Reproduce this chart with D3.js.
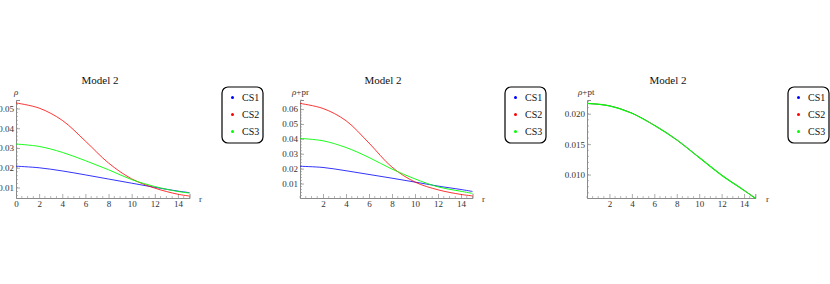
<!DOCTYPE html>
<html>
<head>
<meta charset="utf-8">
<script src="https://cdn.jsdelivr.net/npm/d3@7"></script>
<style>
  body { margin: 0; background: #fff; }
  svg text { font-family: "Liberation Serif", "Times New Roman", Times, serif !important; }
</style>
</head>
<body>
<svg id="chart" width="830" height="284"></svg>
<script>
// radial coordinate samples
const rValues = [0, 2, 4, 6, 8, 10, 12, 14, 15];

const seriesNames = ['CS1', 'CS2', 'CS3'];
const seriesColors = ['#0000ff', '#ff0000', '#00ff00'];

// rho
const rhoCS1 = [0.0208, 0.0200, 0.0184, 0.0164, 0.0143, 0.0122, 0.0101, 0.0082, 0.0074];
const rhoCS2 = [0.0528, 0.0502, 0.0440, 0.0335, 0.0224, 0.0144, 0.0097, 0.0066, 0.0057];
const rhoCS3 = [0.0320, 0.0308, 0.0278, 0.0236, 0.0190, 0.0140, 0.0105, 0.0080, 0.0072];

// rho + pr
const rhoPrCS1 = [0.0216, 0.0208, 0.0186, 0.0161, 0.0136, 0.0110, 0.0083, 0.0060, 0.0047];
const rhoPrCS2 = [0.0638, 0.0604, 0.0522, 0.0372, 0.0210, 0.0110, 0.0058, 0.0027, 0.0017];
const rhoPrCS3 = [0.0403, 0.0387, 0.0342, 0.0275, 0.0197, 0.0131, 0.0078, 0.0048, 0.0034];

// rho + pt (the three cases coincide)
const rhoPtCS1 = [0.0217, 0.0213, 0.0201, 0.0181, 0.0157, 0.0128, 0.0099, 0.0074, 0.0061];
const rhoPtCS2 = [0.0217, 0.0213, 0.0201, 0.0181, 0.0157, 0.0128, 0.0099, 0.0074, 0.0061];
const rhoPtCS3 = [0.0217, 0.0213, 0.0201, 0.0181, 0.0157, 0.0128, 0.0099, 0.0074, 0.0061];

// tick labels
const rhoYTicks = [0.01, 0.02, 0.03, 0.04, 0.05];
const rhoPrYTicks = [0.01, 0.02, 0.03, 0.04, 0.05, 0.06];
const rhoPtYTicks = [0.010, 0.015, 0.020];
const xTicksWithZero = [0, 2, 4, 6, 8, 10, 12, 14];
const xTicksNoZero = [2, 4, 6, 8, 10, 12, 14];

const panels = [
    { title: 'Model 2', ylabel: '', series: [rhoCS1, rhoCS2, rhoCS3],
      xRange: [16, 189.5], yRange: [198, 100], yDomain: [0.0047, 0.0543],
      yTicks: rhoYTicks, yFmt: '.2f', yMinor: 0.002, xTicks: xTicksWithZero,
      titleX: 100, ylabelX: 14, rX: 199, legendX: 222, lineW: [0.8, 0.8, 0.9] },
    { title: 'Model 2', ylabel: '+pr', series: [rhoPrCS1, rhoPrCS2, rhoPrCS3],
      xRange: [300, 472.5], yRange: [198, 100], yDomain: [0.0003, 0.0661],
      yTicks: rhoPrYTicks, yFmt: '.2f', yMinor: 0.002, xTicks: xTicksNoZero,
      titleX: 383, ylabelX: 292, rX: 482, legendX: 505, lineW: [0.8, 0.8, 0.9] },
    { title: 'Model 2', ylabel: '+pt', series: [rhoPtCS1, rhoPtCS2, rhoPtCS3],
      xRange: [587, 755.3], yRange: [198, 100], yDomain: [0.00615, 0.02226],
      yTicks: rhoPtYTicks, yFmt: '.3f', yMinor: 0.001, xTicks: xTicksNoZero,
      titleX: 668, ylabelX: 578, rX: 766, legendX: 788, lineW: [0.5, 0.5, 1.1] },
];

const svg = d3.select('#chart');
const serif = '"Liberation Serif", "Times New Roman", serif';
const axisColor = '#8a8a8a';
const labelColor = '#333';

panels.forEach(p => {
    const x = d3.scaleLinear().domain([0, 15]).range(p.xRange);
    const y = d3.scaleLinear().domain(p.yDomain).range(p.yRange);
    const g = svg.append('g');

    // minor ticks
    const xMinor = d3.range(0, 15.01, 0.5).filter(v => !p.xTicks.includes(v));
    g.selectAll('.xminor').data(xMinor).join('line')
        .attr('x1', d => x(d)).attr('x2', d => x(d))
        .attr('y1', p.yRange[0]).attr('y2', p.yRange[0] - 2)
        .attr('stroke', axisColor).attr('stroke-width', 0.6);
    const yMinor = d3.range(Math.ceil(p.yDomain[0] / p.yMinor) * p.yMinor, p.yDomain[1], p.yMinor);
    g.selectAll('.yminor').data(yMinor).join('line')
        .attr('x1', p.xRange[0]).attr('x2', p.xRange[0] + 2)
        .attr('y1', d => y(d)).attr('y2', d => y(d))
        .attr('stroke', axisColor).attr('stroke-width', 0.6);

    const xAxis = g.append('g')
        .attr('transform', `translate(0,${p.yRange[0]})`)
        .call(d3.axisBottom(x).tickValues(p.xTicks).tickSize(-4).tickPadding(3)
            .tickFormat(d3.format('d')));
    const yAxis = g.append('g')
        .attr('transform', `translate(${p.xRange[0]},0)`)
        .call(d3.axisLeft(y).tickValues(p.yTicks).tickSize(-4).tickPadding(2)
            .tickFormat(d3.format(p.yFmt)));
    [xAxis, yAxis].forEach(a => {
        a.attr('font-family', serif);
        a.select('.domain').attr('stroke', axisColor).attr('stroke-width', 1);
        a.selectAll('.tick line').attr('stroke', axisColor).attr('stroke-width', 0.7);
        a.selectAll('.tick text').attr('fill', labelColor).attr('font-size', 9)
            .attr('font-family', serif);
    });

    // lines
    const line = d3.line()
        .x((d, i) => x(rValues[i]))
        .y(d => y(d))
        .curve(d3.curveCatmullRom.alpha(0.5));
    p.series.forEach((s, k) => {
        g.append('path').datum(s)
            .attr('fill', 'none')
            .attr('stroke', seriesColors[k])
            .attr('stroke-width', p.lineW[k])
            .attr('d', line);
    });

    // texts
    g.append('text').attr('x', p.titleX).attr('y', 84)
        .attr('text-anchor', 'middle').attr('font-size', 11).attr('fill', '#111')
        .attr('font-family', serif)
        .text(p.title);
    const yl = g.append('text').attr('x', p.ylabelX).attr('y', 95)
        .attr('font-size', 9).attr('fill', labelColor).attr('font-family', serif);
    yl.append('tspan').attr('font-style', 'italic').text('ρ');
    yl.append('tspan').text(p.ylabel);
    g.append('text').attr('x', p.rX).attr('y', 202)
        .attr('font-size', 9).attr('fill', labelColor).attr('font-family', serif)
        .text('r');

    // legend
    const lg = g.append('g').attr('transform', `translate(${p.legendX},87)`);
    lg.append('rect').attr('width', 41).attr('height', 56).attr('rx', 6)
        .attr('fill', '#fff').attr('stroke', '#000').attr('stroke-width', 1.2);
    seriesNames.forEach((name, k) => {
        lg.append('circle').attr('cx', 10.5).attr('cy', 10.5 + k * 17).attr('r', 1.5)
            .attr('fill', seriesColors[k]);
        lg.append('text').attr('x', 20).attr('y', 14 + k * 17)
            .attr('font-size', 10).attr('fill', '#111').attr('font-family', serif)
            .text(name);
    });
});
</script>
</body>
</html>
